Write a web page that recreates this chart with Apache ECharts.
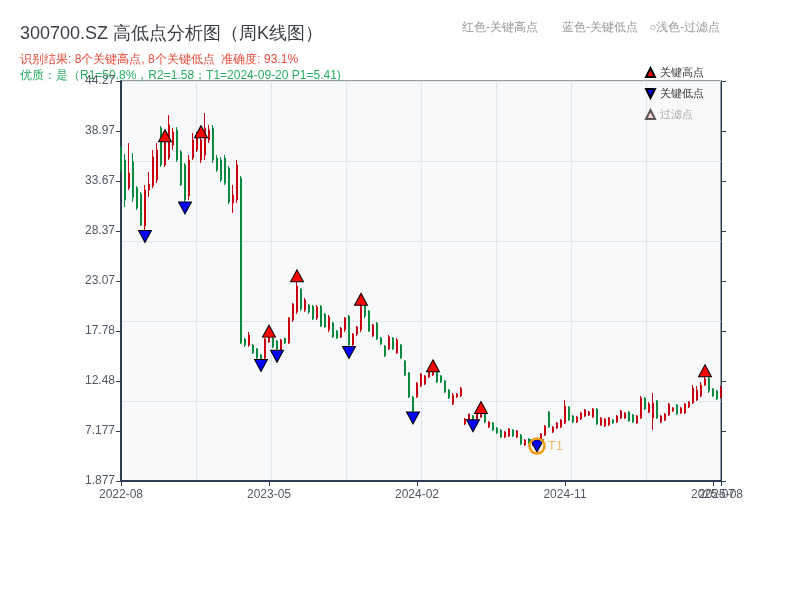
<!DOCTYPE html>
<html>
<head>
<meta charset="utf-8">
<script src="https://cdn.jsdelivr.net/npm/echarts@6/dist/echarts.min.js"></script>
<style>html,body{margin:0;padding:0;background:#fff}#c{width:800px;height:600px}</style>
</head>
<body>
<div id="c"></div>
<script>
const categories = [
'2022-08-26','2022-09-02','2022-09-09','2022-09-16','2022-09-23','2022-09-30','2022-10-14','2022-10-21','2022-10-28','2022-11-04',
'2022-11-11','2022-11-18','2022-11-25','2022-12-02','2022-12-09','2022-12-16','2022-12-23','2022-12-30','2023-01-06','2023-01-13',
'2023-01-20','2023-02-03','2023-02-10','2023-02-17','2023-02-24','2023-03-03','2023-03-10','2023-03-17','2023-03-24','2023-03-31',
'2023-04-07','2023-04-14','2023-04-21','2023-04-28','2023-05-05','2023-05-12','2023-05-19','2023-05-26','2023-06-02','2023-06-09',
'2023-06-16','2023-06-21','2023-06-30','2023-07-07','2023-07-14','2023-07-21','2023-07-28','2023-08-04','2023-08-11','2023-08-18',
'2023-08-25','2023-09-01','2023-09-08','2023-09-15','2023-09-22','2023-09-28','2023-10-13','2023-10-20','2023-10-27','2023-11-03',
'2023-11-10','2023-11-17','2023-11-24','2023-12-01','2023-12-08','2023-12-15','2023-12-22','2023-12-29','2024-01-05','2024-01-12',
'2024-01-19','2024-01-26','2024-02-02','2024-02-08','2024-02-23','2024-03-01','2024-03-08','2024-03-15','2024-03-22','2024-03-29',
'2024-04-03','2024-04-12','2024-04-19','2024-04-26','2024-04-30','2024-05-10','2024-05-17','2024-05-24','2024-05-31','2024-06-07',
'2024-06-14','2024-06-21','2024-06-28','2024-07-05','2024-07-12','2024-07-19','2024-07-26','2024-08-02','2024-08-09','2024-08-16',
'2024-08-23','2024-08-30','2024-09-06','2024-09-13','2024-09-20','2024-09-27','2024-09-30','2024-10-11','2024-10-18','2024-10-25',
'2024-11-01','2024-11-08','2024-11-15','2024-11-22','2024-11-29','2024-12-06','2024-12-13','2024-12-20','2024-12-27','2025-01-03',
'2025-01-10','2025-01-17','2025-01-24','2025-01-27','2025-02-07','2025-02-14','2025-02-21','2025-02-28','2025-03-07','2025-03-14',
'2025-03-21','2025-03-28','2025-04-03','2025-04-11','2025-04-18','2025-04-25','2025-04-30','2025-05-09','2025-05-16','2025-05-23',
'2025-05-30','2025-06-06','2025-06-13','2025-06-20','2025-06-27','2025-07-04','2025-07-11','2025-07-18','2025-07-25','2025-08-01',
'2025-08-08'
];

const opens = [
37.17,35.90,32.93,35.69,32.93,32.29,28.90,32.72,33.14,33.78,
39.29,35.37,36.11,37.49,39.08,36.75,35.37,32.08,36.11,36.96,
35.90,36.43,38.02,39.29,36.11,35.90,36.11,35.05,31.34,31.66,
33.99,16.93,16.29,16.29,15.87,15.23,14.91,16.61,17.05,16.72,
15.76,17.00,16.50,18.94,19.79,22.22,20.00,20.53,20.42,19.15,
20.42,19.58,17.88,18.62,17.77,17.14,17.88,19.36,16.29,17.46,
17.88,20.42,19.89,17.24,18.62,17.03,16.18,15.87,17.03,15.45,
16.29,14.60,13.32,10.78,10.78,11.95,12.16,12.90,13.11,13.43,
13.01,12.47,11.52,10.04,10.78,10.89,7.92,8.23,8.77,8.34,
8.66,9.00,7.60,8.02,7.49,7.28,6.54,6.65,7.28,6.54,
6.75,5.69,6.33,5.80,6.12,6.22,6.75,9.19,7.07,7.49,
7.60,8.02,9.72,8.77,8.13,8.45,8.77,8.87,8.66,9.51,
7.81,7.71,7.81,8.34,8.13,8.55,8.55,9.19,8.87,8.02,
8.55,10.67,9.19,8.55,10.36,8.13,8.34,8.87,9.30,9.93,
9.08,9.08,9.72,10.14,10.46,10.89,12.05,12.79,11.63,11.42,
10.78
];
const closes = [
34.84,31.66,34.52,31.98,30.81,29.01,32.72,33.35,36.22,36.96,
35.37,37.80,39.61,38.87,35.90,33.25,31.66,35.90,38.02,38.23,
38.02,39.29,39.08,35.90,34.84,33.78,33.46,31.45,32.19,35.37,
16.50,16.29,17.35,15.45,14.91,14.81,16.93,17.08,16.08,15.87,
16.82,16.50,19.15,20.64,22.54,20.10,21.06,19.79,19.05,20.32,
18.31,18.20,19.26,17.14,17.03,18.09,19.15,16.29,17.46,18.20,
20.42,19.36,17.77,18.41,16.93,16.40,15.13,17.14,15.87,16.82,
14.91,13.11,10.78,9.30,12.26,13.22,13.01,13.40,13.43,12.37,
12.37,11.31,10.67,10.99,11.10,11.73,8.45,8.98,8.45,8.98,
9.08,8.13,8.13,7.28,6.96,6.54,7.07,7.39,6.65,7.18,
5.80,6.22,5.90,6.12,5.69,6.86,7.71,7.60,7.60,8.02,
8.34,9.82,8.34,8.13,8.66,9.08,9.40,9.19,9.51,7.92,
8.55,8.45,8.55,8.02,8.77,9.30,9.08,8.23,8.13,8.77,
10.67,9.51,10.04,10.14,8.55,8.77,8.98,10.04,9.61,8.98,
9.61,10.04,10.25,11.73,11.52,12.05,12.69,11.42,10.89,10.57,
11.73
];
const lows = [
34.63,30.91,32.72,31.45,30.60,28.90,28.37,31.98,32.93,33.46,
35.16,35.16,35.90,36.96,35.69,33.14,31.45,31.66,35.90,36.75,
35.58,35.90,37.70,35.58,34.63,33.57,33.25,31.23,30.28,31.34,
16.40,16.08,16.08,15.34,14.81,14.70,14.81,16.50,15.97,15.76,
15.66,16.40,16.40,18.73,19.58,19.89,19.79,19.58,18.94,18.94,
18.20,18.09,17.67,17.03,16.93,17.03,17.67,16.08,16.18,17.24,
17.67,19.15,17.67,17.14,16.82,16.29,15.02,15.76,15.76,15.34,
14.81,13.01,10.67,9.08,10.67,11.84,12.05,12.79,13.01,12.26,
12.26,11.21,10.57,9.93,10.67,10.78,7.81,8.13,8.34,8.23,
8.55,8.02,7.49,7.18,6.86,6.43,6.43,6.54,6.54,6.43,
5.69,5.59,5.80,5.59,5.41,6.12,6.65,7.49,6.96,7.39,
7.49,7.92,8.23,8.02,8.02,8.34,8.66,8.77,8.55,7.81,
7.71,7.60,7.71,7.92,8.02,8.45,8.45,8.13,8.02,7.92,
8.45,9.40,9.08,7.28,8.45,8.02,8.23,8.77,9.19,8.87,
8.98,8.98,9.61,10.04,10.36,10.78,11.95,11.21,10.78,10.46,
10.67
];
const highs = [
37.38,36.53,37.70,36.64,33.14,32.50,33.25,34.63,36.96,37.70,
39.50,37.80,40.67,39.29,39.40,36.96,35.58,36.43,38.76,38.87,
38.33,40.88,39.61,39.61,36.43,36.22,36.43,35.26,33.25,35.90,
34.20,17.03,17.67,16.40,15.97,15.34,17.03,17.14,17.10,16.82,
16.93,17.08,19.26,20.74,22.97,22.33,21.27,20.64,20.53,20.53,
20.53,19.68,19.47,18.73,17.88,18.20,19.26,19.47,17.56,18.31,
20.53,20.45,20.00,18.52,18.73,17.14,16.29,17.35,17.14,17.03,
16.40,14.70,13.43,10.89,12.37,13.32,13.11,13.45,13.50,13.45,
13.11,12.58,11.63,11.21,11.21,11.84,8.55,9.00,8.87,9.00,
9.08,9.03,8.23,8.13,7.60,7.39,7.18,7.49,7.39,7.28,
6.86,6.33,6.43,6.22,6.22,6.96,7.81,9.30,7.71,8.13,
8.45,10.46,9.82,8.87,8.77,9.19,9.51,9.30,9.61,9.61,
8.66,8.55,8.66,8.45,8.87,9.40,9.19,9.30,8.98,8.87,
10.89,10.78,10.25,11.21,10.46,8.87,9.08,10.14,9.72,10.04,
9.72,10.14,10.36,12.05,11.95,12.37,12.90,12.85,11.73,11.52,
11.95
];

// key points (marker centres)
const keyHighIdx = [11, 20, 37, 44, 60, 78, 90, 146];
const keyHighMark = [38.46, 38.90, 17.76, 23.62, 21.14, 14.09, 9.67, 13.56];
const keyLowIdx = [6, 16, 35, 39, 57, 73, 88, 104];
const keyLowMark = [27.79, 30.81, 14.12, 15.09, 15.50, 8.55, 7.73, 5.59];
const t1Idx = 104;
const t1Mark = 5.59;

// y axis scale
const yMin = 1.8773;
const yStep = 5.29925;
const yMax = 44.2713;

// x labels: main set on axis 0, the overlapping 2025-07 label on a twin axis
const labelIdx = [0, 37, 74, 111, 150];
const extraLabelIdx = [148];

const candleData = categories.map((c, i) => [opens[i], closes[i], lows[i], highs[i]]);
const axisColor = '#2c3e50';
const labelColor = '#505a66';
const showAt = (i) => labelIdx.indexOf(i) >= 0;
const showExtra = (i) => extraLabelIdx.indexOf(i) >= 0;

const chart = echarts.init(document.getElementById('c'));
chart.setOption({
  animation: false,
  backgroundColor: '#ffffff',
  graphic: [
    {type: 'text', x: 20, y: 34, style: {text: '300700.SZ 高低点分析图（周K线图）', fill: '#3a3f47', fontSize: 18, verticalAlign: 'middle', textVerticalAlign: 'middle'}},
    {type: 'text', x: 20, y: 60, style: {text: '识别结果: 8个关键高点, 8个关键低点  准确度: 93.1%', fill: '#e74c3c', fontSize: 12, verticalAlign: 'middle', textVerticalAlign: 'middle'}},
    {type: 'text', x: 20, y: 76, style: {text: '优质：是（R1=50.8%，R2=1.58；T1=2024-09-20 P1=5.41)', fill: '#27ae60', fontSize: 12, verticalAlign: 'middle', textVerticalAlign: 'middle'}},
    {type: 'text', x: 462, y: 28, style: {text: '红色-关键高点', fill: '#999', fontSize: 12, verticalAlign: 'middle', textVerticalAlign: 'middle'}},
    {type: 'text', x: 562, y: 28, style: {text: '蓝色-关键低点', fill: '#999', fontSize: 12, verticalAlign: 'middle', textVerticalAlign: 'middle'}},
    {type: 'text', x: 649, y: 28, style: {text: '○浅色-过滤点', fill: '#999', fontSize: 12, verticalAlign: 'middle', textVerticalAlign: 'middle'}}
  ],
  legend: {
    orient: 'vertical', left: 645, top: 67, padding: 0,
    itemWidth: 9, itemHeight: 9, itemGap: 10, selectedMode: false,
    textStyle: {fontSize: 11, color: '#333'},
    data: [
      {name: '关键高点', icon: 'path://M5,0 L10,10 L0,10 Z'},
      {name: '关键低点', icon: 'path://M0,0 L10,0 L5,10 Z'},
      {name: '过滤点', icon: 'path://M5,0 L10,10 L0,10 Z', textStyle: {color: '#aaa'}}
    ]
  },
  grid: {left: 121, right: 79, top: 81, bottom: 119, show: true, backgroundColor: '#f7f9fb', borderColor: axisColor, borderWidth: 1},
  xAxis: [
    {
      type: 'category', data: categories, boundaryGap: false, position: 'bottom',
      axisLine: {show: true, lineStyle: {color: axisColor, width: 2}},
      axisTick: {show: true, interval: (i) => showAt(i), length: 5, lineStyle: {color: axisColor, width: 1}},
      axisLabel: {interval: (i) => showAt(i), showMaxLabel: true, showMinLabel: true,
                  formatter: (v) => v.slice(0, 7), color: labelColor, fontSize: 12, margin: 8},
      splitLine: {show: false}
    },
    {
      type: 'value', min: 0, max: 8, interval: 1, position: 'top',
      axisLine: {show: false}, axisTick: {show: false}, axisLabel: {show: false},
      splitLine: {show: true, lineStyle: {color: '#e2e5ea', width: 1}}
    },
    {
      type: 'category', data: categories, boundaryGap: false, position: 'bottom', offset: 0,
      axisLine: {show: false},
      axisTick: {show: true, interval: (i) => showExtra(i), length: 5, lineStyle: {color: axisColor, width: 1}},
      axisLabel: {interval: (i) => showExtra(i), showMaxLabel: false, showMinLabel: false,
                  formatter: (v) => v.slice(0, 7), color: labelColor, fontSize: 12, margin: 8},
      splitLine: {show: false}
    }
  ],
  yAxis: [
    {
      type: 'value', position: 'left', min: yMin, max: yMax, interval: yStep,
      axisLine: {show: true, lineStyle: {color: axisColor, width: 2}},
      axisTick: {show: true, length: 5, lineStyle: {color: axisColor}},
      axisLabel: {color: labelColor, fontSize: 12, margin: 6, formatter: (v) => Number(v).toPrecision(4)},
      splitLine: {show: false}
    },
    {
      type: 'value', position: 'right', min: yMin, max: yMax, interval: yStep,
      axisLine: {show: true, lineStyle: {color: axisColor, width: 1}},
      axisTick: {show: true, length: 5, lineStyle: {color: axisColor}},
      axisLabel: {show: false},
      splitLine: {show: false}
    },
    {
      type: 'value', position: 'left', min: 0, max: 5, interval: 1,
      axisLine: {show: false}, axisTick: {show: false}, axisLabel: {show: false},
      splitLine: {show: true, lineStyle: {color: '#e2e5ea', width: 1}}
    }
  ],
  series: [
    {
      name: 'K线', type: 'candlestick', xAxisIndex: 0, yAxisIndex: 0,
      data: candleData, barWidth: 2.2,
      itemStyle: {color: '#ee1122', color0: '#0a8a3c', borderColor: '#c8000f', borderColor0: '#0a8a3c', borderWidth: 1},
      z: 2
    },
    {
      name: '关键高点', type: 'scatter', xAxisIndex: 0, yAxisIndex: 0,
      data: keyHighIdx.map((k, j) => [k, keyHighMark[j]]),
      symbol: 'triangle', symbolSize: [13, 12],
      itemStyle: {color: '#ff0000', borderColor: '#000', borderWidth: 1, opacity: 1},
      z: 5
    },
    {
      name: '关键低点', type: 'scatter', xAxisIndex: 0, yAxisIndex: 0,
      data: keyLowIdx.map((k, j) => [k, keyLowMark[j]]),
      symbol: 'triangle', symbolRotate: 180, symbolSize: [13, 12],
      itemStyle: {color: '#0000ff', borderColor: '#000', borderWidth: 1, opacity: 1},
      z: 5
    },
    {
      name: '过滤点', type: 'scatter', xAxisIndex: 0, yAxisIndex: 0,
      data: [], symbol: 'triangle', symbolSize: [10, 10],
      itemStyle: {color: '#ffd0d0', borderColor: '#333', borderWidth: 1},
      z: 4
    },
    {
      name: 'T1', type: 'scatter', xAxisIndex: 0, yAxisIndex: 0,
      data: [[t1Idx, t1Mark]], symbol: 'circle', symbolSize: 15,
      itemStyle: {color: 'rgba(0,0,0,0)', borderColor: '#f39c12', borderWidth: 2.5, opacity: 1},
      label: {show: true, position: 'right', distance: 2, formatter: 'T1', color: 'rgba(243,156,18,0.65)', fontSize: 13},
      z: 6
    }
  ]
});
</script>
</body>
</html>
